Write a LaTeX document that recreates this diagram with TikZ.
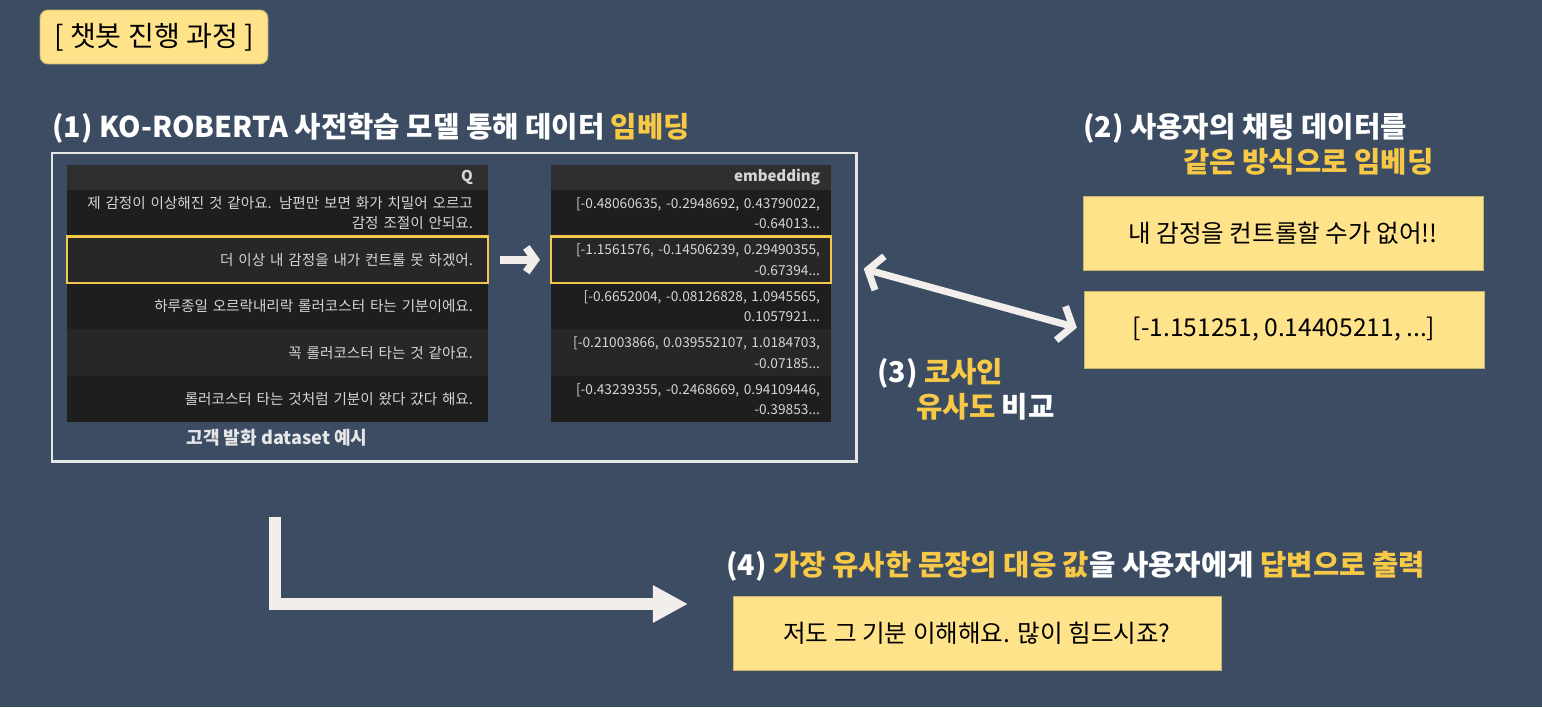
\documentclass[tikz,border=0pt]{standalone}
\usepackage{fontspec}
\setmainfont{Noto Sans CJK KR}
\usetikzlibrary{arrows.meta,positioning,calc}

\definecolor{bgslate}{HTML}{3C4C63}
\definecolor{noteyellow}{HTML}{FFE38B}
\definecolor{noteedge}{HTML}{C8B36E}
\definecolor{hltext}{HTML}{F7C946}
\definecolor{hlborder}{HTML}{F2C94C}
\definecolor{rowdark}{HTML}{1E1E1E}
\definecolor{rowlight}{HTML}{272727}
\definecolor{rowhead}{HTML}{2F2F2F}
\definecolor{celltext}{HTML}{D6D6D6}
\definecolor{framegray}{HTML}{E6E6E6}
\definecolor{arrowwhite}{HTML}{F1EEEB}

\tikzset{
  heading/.style={anchor=base west, inner sep=0pt, text=white, font=\bfseries\fontsize{16.3}{19.7}\selectfont},
  note/.style={fill=noteyellow, draw=noteedge, line width=0.5pt, text=black, font=\fontsize{14}{16}\selectfont},
  cell/.style={anchor=north west, outer sep=0pt, inner xsep=0.3cm, inner ysep=0pt, text width=7.82cm, align=right, minimum height=0.93cm, text=celltext, font=\fontsize{8.3}{11.5}\selectfont},
  ecell/.style={cell, inner xsep=0.22cm, text width=5.16cm, font=\fontsize{7.8}{11.5}\selectfont},
  headrow/.style={minimum height=0.5cm, fill=rowhead, font=\bfseries\fontsize{8.5}{10}\selectfont},
  picked/.style={draw=hlborder, line width=1.6pt},
  whitearrow/.style={draw=arrowwhite}
}

\begin{document}
\begin{tikzpicture}[x=0.02cm, y=-0.02cm]
    % Фон
    \fill[bgslate] (0,0) rectangle (1542,707);
    \useasboundingbox (0,0) rectangle (1542,707);

    % Заголовок
    \node[note, rounded corners=0.16cm, minimum width=4.56cm, minimum height=1.08cm, font=\fontsize{16}{18}\selectfont] (title) at (154,37) {[ 챗봇 진행 과정 ]};

    % Крок (1)
    \node[heading] (step1) at (52,137) {(1) KO-ROBERTA 사전학습 모델 통해 데이터 \textcolor{hltext}{임베딩}};
    \draw[framegray, line width=1.7pt] (52,153) rectangle (856,461);

    % Таблиця речень
    \node[cell, headrow] (qhead) at (67,165) {Q};
    \node[cell, fill=rowdark, below=0pt of qhead] (q1) {제 감정이 이상해진 것 같아요. 남편만 보면 화가 치밀어 오르고\\감정 조절이 안되요.};
    \node[cell, fill=rowlight, below=0pt of q1] (q2) {더 이상 내 감정을 내가 컨트롤 못 하겠어.};
    \node[cell, fill=rowdark, below=0pt of q2] (q3) {하루종일 오르락내리락 롤러코스터 타는 기분이에요.};
    \node[cell, fill=rowlight, below=0pt of q3] (q4) {꼭 롤러코스터 타는 것 같아요.};
    \node[cell, fill=rowdark, below=0pt of q4] (q5) {롤러코스터 타는 것처럼 기분이 왔다 갔다 해요.};
    \draw[picked] (q2.north west) rectangle (q2.south east);
    \node[anchor=base, text=framegray, font=\bfseries\fontsize{10.3}{12}\selectfont] (qcap) at (277,444) {고객 발화 dataset 예시};

    % Таблиця векторів
    \node[ecell, headrow] (ehead) at (551,165) {embedding};
    \node[ecell, fill=rowdark, below=0pt of ehead] (e1) {[-0.48060635, -0.2948692, 0.43790022,\\-0.64013...};
    \node[ecell, fill=rowlight, below=0pt of e1] (e2) {[-1.1561576, -0.14506239, 0.29490355,\\-0.67394...};
    \node[ecell, fill=rowdark, below=0pt of e2] (e3) {[-0.6652004, -0.08126828, 1.0945565,\\0.1057921...};
    \node[ecell, fill=rowlight, below=0pt of e3] (e4) {[-0.21003866, 0.039552107, 1.0184703,\\-0.07185...};
    \node[ecell, fill=rowdark, below=0pt of e4] (e5) {[-0.43239355, -0.2468669, 0.94109446,\\-0.39853...};
    \draw[picked] (e2.north west) rectangle (e2.south east);

    \draw[whitearrow, line width=4.5pt, -{Straight Barb[length=5pt,width=14pt]}, shorten <=0.24cm, shorten >=0.22cm] (q2.east) -- (e2.west);

    % Крок (2)
    \node[heading, align=left] (step2) at (1083,172) {(2) 사용자의 채팅 데이터를\\\hspace*{2cm}\textcolor{hltext}{같은 방식으로 임베딩}};
    \node[note, minimum width=8cm, minimum height=1.48cm] (chat) at (1283,233) {내 감정을 컨트롤할 수가 없어!!};
    \node[note, minimum width=8cm, minimum height=1.54cm] (vec) at (1284,329.5) {[-1.151251, 0.14405211, ...]};

    % Крок (3)
    \draw[whitearrow, line width=4pt, {Straight Barb[length=7pt,width=20pt]}-{Straight Barb[length=7pt,width=20pt]}, shorten <=0.68cm, shorten >=0.14cm] (e2.east) -- (vec.west);
    \node[heading, align=left] (step3) at (877,417) {(3) \textcolor{hltext}{코사인}\\\hspace*{0.78cm}\textcolor{hltext}{유사도} 비교};

    % Крок (4)
    \coordinate (turnstart) at (275,517);
    \coordinate (turnend) at (688,604);
    \draw[whitearrow, line width=6.8pt, -{Triangle[length=20pt,width=20pt]}] (turnstart) |- (turnend);
    \node[heading] (step4) at (726,575) {(4) \textcolor{hltext}{가장 유사한 문장의 대응 값}을 사용자에게 \textcolor{hltext}{답변으로 출력}};
    \node[note, minimum width=9.76cm, minimum height=1.48cm] (reply) at (977,633) {저도 그 기분 이해해요. 많이 힘드시죠?};
\end{tikzpicture}
\end{document}
